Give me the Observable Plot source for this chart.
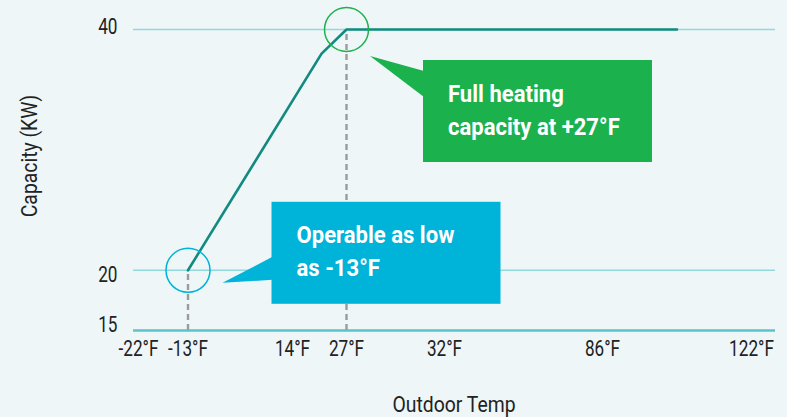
<!DOCTYPE html>
<html>
<head>
<meta charset="utf-8">
<script src="https://cdn.jsdelivr.net/npm/d3@7"></script>
<script src="https://cdn.jsdelivr.net/npm/@observablehq/plot@0.6"></script>
<style>
  html, body { margin: 0; padding: 0; background: #eef6f8; }
  #chart svg { display: block; }
</style>
</head>
<body>
<div id="chart"></div>
<script>
// Outdoor temperature ticks (°F) and their labels
const tickTemps = [-22, -13, 14, 27, 32, 86, 122];
const tickLabels = ["-22°F", "-13°F", "14°F", "27°F", "32°F", "86°F", "122°F"];

// Capacity ticks (KW)
const capacityTicks = [15, 20, 40];

// Heating capacity curve
const curveTemp = [-13, 21, 27, 104];
const curveKW = [20, 38, 40, 40];

// Highlighted operating points
const markerTemp = [-13, 27];
const markerKW = [20, 40];
const markerColor = ["#00b4d9", "#1bb14c"];
const markerText = [["Operable as low", "as -13°F"], ["Full heating", "capacity at +27°F"]];

// Axis titles
const xTitle = "Outdoor Temp";
const yTitle = "Capacity (KW)";

const FONT = "Roboto, 'DejaVu Sans Condensed', sans-serif";
const NARROW = 0.78;        // condensed look for tick labels
const TITLE_NARROW = 0.88;  // condensed look for axis titles
const CALLOUT_NARROW = 0.92;

// Vertical nudge of each capacity tick label (15 sits on the baseline)
const yTickNudge = {15: -6, 20: 5, 40: -3};

const curve = curveTemp.map((t, i) => ({t, kw: curveKW[i]}));
const markers = markerTemp.map((t, i) => ({t, kw: markerKW[i], color: markerColor[i], lines: markerText[i]}));

// Callout box geometry, in pixels relative to the marker it points at
const calloutLayout = [
  {box: [84, -68, 229, 102], tip: [35, 13], base: [-13, 10], text: [25, -27]},
  {box: [77, 31, 229, 102], tip: [24, 27], base: [42, 68], text: [25, 73]}
];

function callouts(index, scales) {
  const g = d3.create("svg:g").attr("class", "callouts");
  markers.forEach((m, i) => {
    const cx = scales.x(m.t), cy = scales.y(m.kw);
    const L = calloutLayout[i];
    const bx = cx + L.box[0], by = cy + L.box[1];
    g.append("path")
      .attr("fill", m.color)
      .attr("d", `M${cx + L.tip[0]},${cy + L.tip[1]}L${bx + 1},${cy + L.base[0]}L${bx + 1},${cy + L.base[1]}Z`);
    g.append("rect")
      .attr("x", bx).attr("y", by)
      .attr("width", L.box[2]).attr("height", L.box[3])
      .attr("fill", m.color);
    m.lines.forEach((line, j) => {
      g.append("text")
        .attr("fill", "white")
        .attr("text-anchor", "start")
        .attr("font-family", FONT)
        .attr("font-weight", "bold")
        .attr("font-size", 24)
        .attr("transform", `translate(${bx + L.text[0]},${cy + L.text[1] + j * 33}) scale(${CALLOUT_NARROW},1)`)
        .text(line);
    });
  });
  return g.node();
}

// Axis titles, placed from the plot's frame dimensions
function titles(index, scales, values, dims) {
  const g = d3.create("svg:g").attr("class", "titles")
    .attr("fill", "#222").attr("font-family", FONT).attr("font-size", 22).attr("text-anchor", "middle");
  const left = dims.marginLeft, right = dims.width - dims.marginRight;
  const bottom = dims.height - dims.marginBottom;
  g.append("text")
    .attr("transform", `translate(${(left + right) / 2},${bottom + 82}) scale(${TITLE_NARROW},1)`)
    .text(xTitle);
  g.append("text")
    .attr("transform", `translate(${left - 96},${dims.marginTop + 127}) rotate(-90) scale(${TITLE_NARROW},1)`)
    .text(yTitle);
  return g.node();
}

const chart = Plot.plot({
  width: 787,
  height: 417,
  marginLeft: 133,
  marginRight: 12,
  marginTop: 29,
  marginBottom: 87,
  style: {background: "#eef6f8", fontFamily: FONT, fontSize: "22px", color: "#222"},
  x: {
    type: "linear",
    domain: tickTemps,
    range: [138, 187.5, 292, 346, 444, 602, 751],
    ticks: tickTemps,
    tickFormat: (d) => tickLabels[tickTemps.indexOf(d)],
    tickSize: 0,
    tickPadding: 10,
    label: null
  },
  y: {
    domain: [15, 40],
    axis: null,
    label: null
  },
  marks: [
    Plot.ruleY([20, 40], {stroke: "#92d9dc", strokeWidth: 1.6}),
    Plot.ruleY([15], {stroke: "#5cc4c9", strokeWidth: 2.6}),
    ...capacityTicks.map((v) =>
      Plot.axisY([v], {tickSize: 0, tickPadding: 16, dy: yTickNudge[v], label: null, fontSize: 22})
    ),
    Plot.ruleX(markers, {x: "t", y1: 15, y2: "kw", stroke: "#9b9b9b", strokeWidth: 2.4, strokeDasharray: "6,4"}),
    Plot.line(curve, {x: "t", y: "kw", stroke: "#128a7f", strokeWidth: 2.6}),
    Plot.dot(markers, {x: "t", y: "kw", r: 22, stroke: "color", strokeWidth: 1.5, fill: "none"}),
    callouts,
    titles
  ]
});

// Condense tick labels horizontally around each label's own anchor
chart.querySelectorAll("text").forEach((t) => {
  if (t.closest(".callouts") || t.closest(".titles")) return;
  const tr = t.getAttribute("transform");
  if (tr) {
    t.setAttribute("transform", `${tr} scale(${NARROW},1)`);
  } else {
    const x = +(t.getAttribute("x") || 0), y = +(t.getAttribute("y") || 0);
    t.setAttribute("transform", `translate(${x},${y}) scale(${NARROW},1) translate(${-x},${-y})`);
  }
});

document.getElementById("chart").append(chart);
</script>
</body>
</html>
